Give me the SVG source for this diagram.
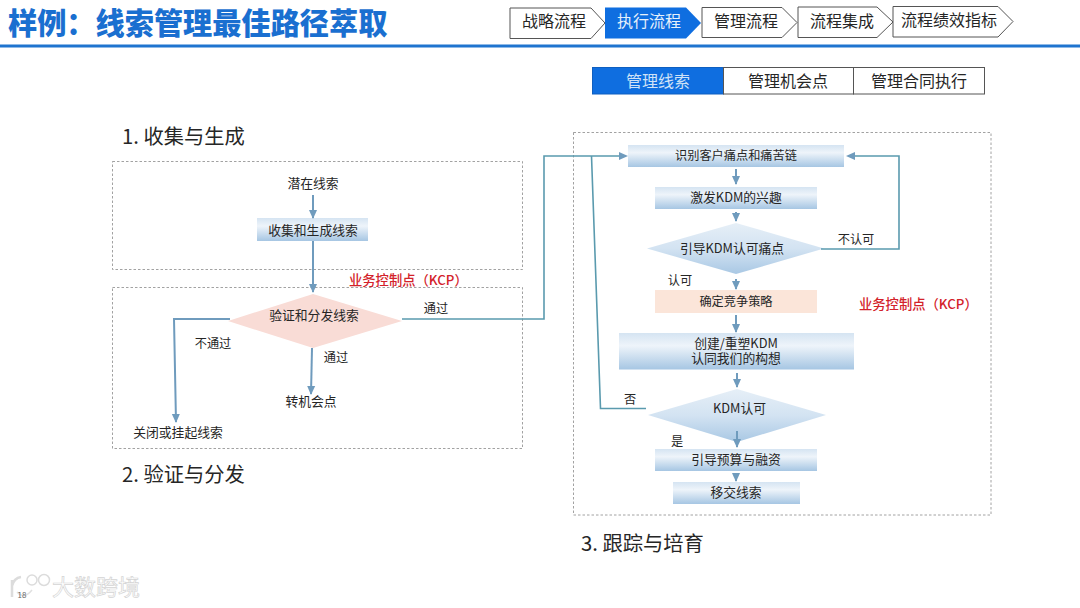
<svg xmlns="http://www.w3.org/2000/svg" width="1080" height="608" viewBox="0 0 1080 608">
<style>
text{font-family:"Noto Sans CJK SC","Noto Sans",sans-serif;fill:#262626;text-anchor:middle}
.t16{font-size:16px}
.n{font-size:12.8px}
.s{font-size:12.2px}
.h{font-size:20.3px;text-anchor:start}
.kcp{font-size:13.300px;fill:#d3222a;font-weight:500;text-anchor:start}
.chev{fill:#fff;stroke:#555;stroke-width:1}
.dash{fill:none;stroke:#8a8a8a;stroke-width:.8;stroke-dasharray:2.500 2}
.c{fill:none;stroke:#6f9bbd;stroke-width:2}
.ct{fill:none;stroke:#5a9aae;stroke-width:1.6}
.a{marker-end:url(#ah)}
.box{fill:url(#bg)}
.dia{fill:url(#dg)}
</style>
<defs>
<linearGradient id="bg" x1="0" y1="0" x2="0" y2="1"><stop offset="0" stop-color="#d5e4f2"/><stop offset=".35" stop-color="#eef4fa"/><stop offset="1" stop-color="#a6c6e3"/></linearGradient>
<linearGradient id="dg" x1="0" y1="0" x2="0" y2="1"><stop offset="0" stop-color="#e6eff7"/><stop offset=".5" stop-color="#d3e3f2"/><stop offset="1" stop-color="#a9c8e4"/></linearGradient>
<marker id="ah" markerUnits="userSpaceOnUse" markerWidth="9" markerHeight="9" viewBox="0 0 9 9" refX="8" refY="4.500" orient="auto"><path d="M0 .5L9 4.500L0 8.500Z" fill="#6f9bbd"/></marker>
</defs>
<rect width="1080" height="608" fill="#fff"/>
<g id="header">
<text x="8" y="34" style="font-size:29.2px;font-weight:900;fill:#1a6fd0;text-anchor:start">样例：线索管理最佳路径萃取</text>
<rect x="0" y="44.500" width="1080" height="3" fill="#1f74cf"/>
</g>
<g id="nav-1"><path class="chev" d="M510 8H591L605 23L591 38.500H510Z"/><text class="t16" x="554" y="27">战略流程</text></g>
<g id="nav-2"><path d="M605 7.500H686L701 23L686 38.500H605Z" fill="#0f6ee0"/><text class="t16" x="649" y="27" style="fill:#e6f0fb">执行流程</text></g>
<g id="nav-3"><path class="chev" d="M702 7.500H782L797 22.500L782 37.500H702Z"/><text class="t16" x="746" y="27">管理流程</text></g>
<g id="nav-4"><path class="chev" d="M798 7H877L893 22L877 37.500H798Z"/><text class="t16" x="842" y="27">流程集成</text></g>
<g id="nav-5"><path class="chev" d="M893 6.500H998L1013 21.500L998 37H893Z"/><text class="t16" x="949" y="26">流程绩效指标</text></g>
<g id="tab-1"><rect x="592.500" y="67.500" width="131" height="26.500" fill="#0f6ee0" stroke="#0f5fc0"/><text class="t16" x="658" y="87" style="fill:#cfe2f7">管理线索</text></g>
<g id="tab-2"><rect x="723.500" y="67.500" width="130" height="26.500" fill="#fff" stroke="#555"/><text class="t16" x="788" y="87">管理机会点</text></g>
<g id="tab-3"><rect x="853.500" y="67.500" width="131" height="26.500" fill="#fff" stroke="#555"/><text class="t16" x="919" y="87">管理合同执行</text></g>

<g id="regions">
<rect class="dash" x="112.500" y="161.500" width="410" height="108"/>
<rect class="dash" x="112.500" y="287.500" width="410" height="161"/>
<rect class="dash" x="573.500" y="132.500" width="417.500" height="382.500"/>
</g>
<text class="h" x="122" y="144">1. 收集与生成</text>
<text class="h" x="122" y="482">2. 验证与分发</text>
<text class="h" x="581" y="551">3. 跟踪与培育</text>

<g id="n-qianzai"><text class="n" x="313" y="188">潜在线索</text></g>
<g id="n-shouji"><rect class="box" x="257" y="218" width="111" height="23"/><text class="n" x="313" y="235">收集和生成线索</text></g>
<g id="n-yanzheng"><path d="M228 321L313 294L402 321L313 348Z" fill="#f9dcd6"/><text class="n" x="314" y="320">验证和分发线索</text></g>
<g id="n-zhuan"><text class="n" x="311" y="406">转机会点</text></g>
<g id="n-guanbi"><text class="n" x="178" y="437">关闭或挂起线索</text></g>

<g id="n-shibie"><rect class="box" x="628" y="145" width="216" height="22"/><text class="s" x="736" y="160">识别客户痛点和痛苦链</text></g>
<g id="n-jifa"><rect class="box" x="655" y="187" width="162" height="22"/><text class="n" x="736" y="202">激发KDM的兴趣</text></g>
<g id="n-yindao"><path class="dia" d="M647 248.500L736 223L824 248.500L736 274Z"/><text class="n" x="732" y="253">引导KDM认可痛点</text></g>
<g id="n-queding"><rect x="655" y="290" width="162" height="23" fill="#fbe5d9"/><text class="s" x="736" y="306">确定竞争策略</text></g>
<g id="n-chuangjian"><rect class="box" x="619" y="333" width="235" height="36.500"/><text class="n"><tspan x="736" y="348">创建/重塑KDM</tspan><tspan x="736" y="363">认同我们的构想</tspan></text></g>
<g id="n-kdm"><path class="dia" d="M648 415L737 389L826 415L737 442Z"/><text class="n" x="739.500" y="413">KDM认可</text></g>
<g id="n-yusuan"><rect class="box" x="655" y="449" width="162" height="22"/><text class="n" x="736" y="464">引导预算与融资</text></g>
<g id="n-yijiao"><rect class="box" x="673" y="482" width="127" height="22"/><text class="n" x="736" y="497">移交线索</text></g>

<g id="connectors">
<path class="c a" d="M313 195V218"/>
<path class="c a" d="M313 241V292"/>
<path class="c a" d="M230 319H174L176 422"/>
<path class="c a" d="M312 348L311 394"/>
<path class="ct" d="M402 319H544V156H620"/>
<path d="M628 156L619 152V160Z" fill="#6f9bbd"/>
<path class="ct" d="M646 408.500H600.500L591.500 156"/>
<path class="c a" d="M736 169V184"/>
<path class="c a" d="M736 212V221"/>
<path class="ct" d="M821 249H899V156H852"/>
<path d="M846 156L855 152V160Z" fill="#6f9bbd"/>
<path class="c a" d="M736 279V289"/>
<path class="c a" d="M736 315V332"/>
<path class="c a" d="M737 373V387"/>
<path class="c a" d="M737 431V447"/>
<path class="c a" d="M736 473V481"/>
</g>
<g id="labels">
<text class="kcp" x="349" y="284.500">业务控制点（KCP）</text>
<text class="kcp" x="859" y="308.500">业务控制点（KCP）</text>
<text class="s" x="436" y="313">通过</text>
<text class="s" x="213" y="348">不通过</text>
<text class="s" x="336" y="362">通过</text>
<text class="s" x="856" y="244">不认可</text>
<text class="s" x="680" y="285">认可</text>
<text class="s" x="630" y="404">否</text>
<text class="s" x="677" y="446">是</text>
</g>
<g id="watermark">
<path d="M12 597V580M12 586Q14 578 21 577" fill="none" stroke="#dcdcdc" stroke-width="2.500"/>
<path d="M17 592Q24 600 32 590" fill="none" stroke="#e0e0e0" stroke-width="1.500"/>
<circle cx="32" cy="580" r="5" fill="none" stroke="#dcdcdc" stroke-width="1.500"/>
<circle cx="44" cy="580" r="5.500" fill="none" stroke="#dcdcdc" stroke-width="1.500"/>
<text x="22" y="598" style="font-size:8px;fill:#666">18</text>
<text x="96" y="595" style="font-size:22px;fill:#fff;stroke:#d4d4d4;stroke-width:.7">大数跨境</text>
</g>
</svg>
